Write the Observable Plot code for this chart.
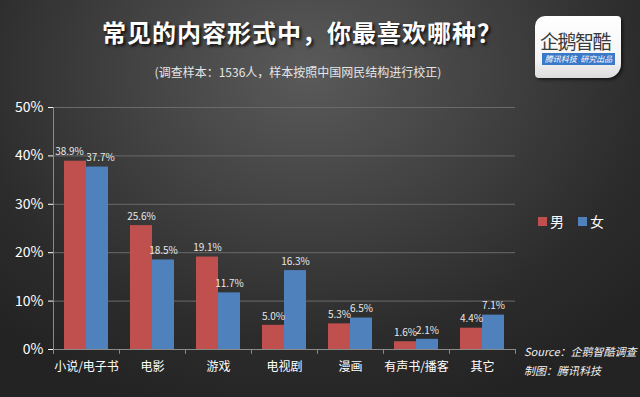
<!DOCTYPE html>
<html>
<head>
<meta charset="utf-8">
<script src="https://cdn.jsdelivr.net/npm/d3@7"></script>
<script src="https://cdn.jsdelivr.net/npm/@observablehq/plot@0.6"></script>
<style>
  html, body { margin: 0; padding: 0; }
  body { width: 640px; height: 397px; overflow: hidden; font-family: "Noto Sans CJK SC", "Noto Sans", sans-serif; }
  #wrap { position: relative; width: 640px; height: 397px;
    background: radial-gradient(ellipse 70% 90% at 48% 18%, #5a5a5a 0%, #424242 40%, #2c2c2c 75%, #232323 100%); }
  #chart { position: absolute; left: 0; top: 0; }
  .title { position: absolute; left: 0; width: 604px; top: 14px; text-align: center; color: #fff;
    font-size: 24px; font-weight: bold; text-shadow: 2px 2px 3px rgba(0,0,0,0.8); letter-spacing: 1px; }
  .subtitle { position: absolute; left: 0; width: 596px; top: 63px; text-align: center; color: #e6e6e6; font-size: 12px; }
  .legend { position: absolute; left: 538px; top: 211px; color: #fff; font-size: 14px; display: flex; gap: 14px; }
  .legend span { display: flex; align-items: center; }
  .legend i { display: inline-block; width: 9px; height: 9px; margin-right: 3px; }
  .source { position: absolute; left: 524px; top: 342px; color: #f2f2f2; font-size: 11px; font-style: italic; line-height: 19px; }
  .logo { position: absolute; left: 535px; top: 16px; width: 86px; height: 62px; border-radius: 10px 4px 14px 4px;
    background: linear-gradient(#ffffff 0%, #f4f4f4 70%, #dcdcdc 100%); box-shadow: 2px 2px 3px rgba(0,0,0,0.5); }
  .logo .name { position: absolute; left: 5px; top: 11px; font-size: 19px; color: #3a3a3a; letter-spacing: -1.5px; }
  .logo .bar { position: absolute; left: 7px; top: 37px; width: 73px; height: 12px; background: #3a78c8; color: #fff;
    font-size: 8px; line-height: 12px; text-align: center; font-style: italic; }
</style>
</head>
<body>
<div id="wrap">
  <div id="chart"></div>
  <div class="title">常见的内容形式中，你最喜欢哪种？</div>
  <div class="subtitle">(调查样本：1536人，样本按照中国网民结构进行校正)</div>
  <div class="logo"><div class="name">企鹅智酷</div><div class="bar">腾讯科技&nbsp; 研究出品</div></div>
  <div class="legend" id="legend"></div>
  <div class="source">Source：企鹅智酷调查<br>制图：腾讯科技</div>
</div>
<script>
const categories = ["小说/电子书", "电影", "游戏", "电视剧", "漫画", "有声书/播客", "其它"];
const seriesNames = ["男", "女"];
const male = [38.9, 25.6, 19.1, 5.0, 5.3, 1.6, 4.4];
const female = [37.7, 18.5, 11.7, 16.3, 6.5, 2.1, 7.1];
const yTicks = [0, 10, 20, 30, 40, 50];
const colors = ["#c0504d", "#4f81bd"];

const data = [];
categories.forEach((c, i) => {
  data.push({cat: c, sex: seriesNames[0], v: male[i]});
  data.push({cat: c, sex: seriesNames[1], v: female[i]});
});

const first = categories[0], last = categories[categories.length - 1];
const isFirstMale = d => d.cat === first && d.sex === seriesNames[0];
const isFirstFemale = d => d.cat === first && d.sex === seriesNames[1];

const chart = Plot.plot({
  width: 640,
  height: 397,
  marginLeft: 53,
  marginRight: 125,
  marginTop: 107,
  marginBottom: 48,
  style: {background: "transparent", color: "#ffffff", fontFamily: "'Noto Sans CJK SC', sans-serif"},
  fx: {domain: categories, padding: 0, label: null, axis: "bottom", tickSize: 0, tickPadding: 13},
  x: {domain: seriesNames, paddingInner: 0, paddingOuter: 0.5, axis: null},
  y: {domain: [0, 50], ticks: yTicks, tickFormat: d => d + "%", label: null, tickSize: 5, tickPadding: 5},
  color: {domain: seriesNames, range: colors},
  marks: [
    Plot.gridY(yTicks.filter(d => d > 0), {stroke: "#6a6a6a", strokeOpacity: 1, strokeWidth: 1}),
    Plot.barY(data, {fx: "cat", x: "sex", y: "v", fill: "sex"}),
    Plot.ruleY([0], {stroke: "#8a8a8a"}),
    Plot.ruleX([first], {fx: d => d, x: () => seriesNames[0], dx: -22, y1: -1, y2: 50, stroke: "#8a8a8a"}),
    Plot.ruleX(categories, {fx: d => d, x: () => seriesNames[0], dx: -22, y1: -1, y2: 0, stroke: "#8a8a8a"}),
    Plot.ruleX([last], {fx: d => d, x: () => seriesNames[1], dx: 22, y1: -1, y2: 0, stroke: "#8a8a8a"}),
    Plot.text(data.filter(d => !isFirstMale(d) && !isFirstFemale(d)), {fx: "cat", x: "sex", y: "v", text: d => d.v.toFixed(1) + "%", dy: -9, fill: "#e8e8e8", fontSize: 10}),
    Plot.text(data.filter(isFirstMale), {fx: "cat", x: "sex", y: "v", text: d => d.v.toFixed(1) + "%", dy: -9, dx: -6, fill: "#e8e8e8", fontSize: 10}),
    Plot.text(data.filter(isFirstFemale), {fx: "cat", x: "sex", y: "v", text: d => d.v.toFixed(1) + "%", dy: -9, dx: 3, fill: "#e8e8e8", fontSize: 10})
  ]
});
chart.querySelectorAll("[aria-label='y-axis tick label']").forEach(g => g.setAttribute("font-size", 14));
chart.querySelectorAll("[aria-label='fx-axis tick label']").forEach(g => g.setAttribute("font-size", 12));
chart.querySelectorAll("[aria-label='y-axis tick']").forEach(g => g.setAttribute("stroke", "#8a8a8a"));
document.getElementById("chart").append(chart);

const legend = document.getElementById("legend");
seriesNames.forEach((s, i) => {
  const span = document.createElement("span");
  span.innerHTML = `<i style="background:${colors[i]}"></i>${s}`;
  legend.append(span);
});
</script>
</body>
</html>
